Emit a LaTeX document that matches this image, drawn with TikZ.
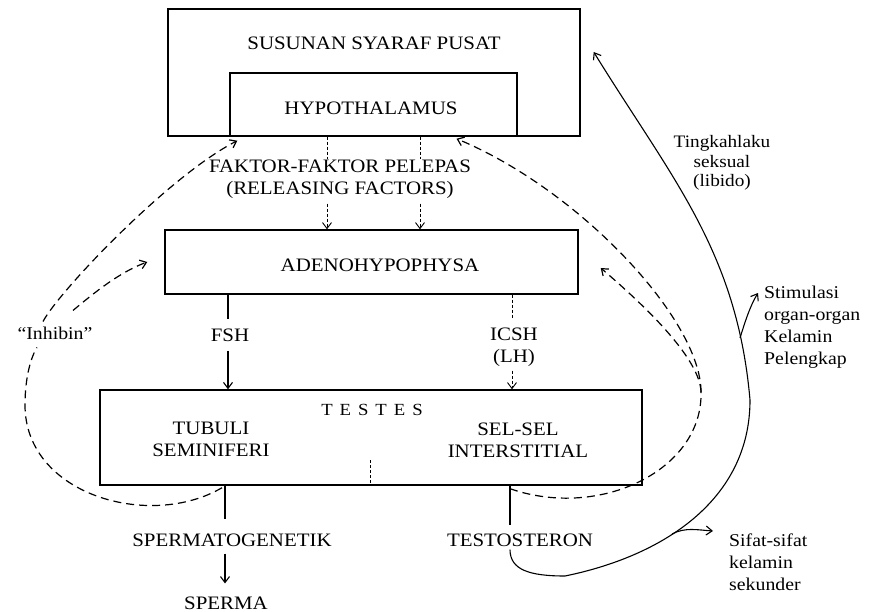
\documentclass[tikz,border=0pt]{standalone}
\usepackage{fontspec}
\setmainfont{Liberation Serif}[FakeStretch=1.1]
\usetikzlibrary{arrows.meta,calc}
\begin{document}
\begin{tikzpicture}[x=1pt,y=-1pt,
  box/.style={draw, line width=1.4pt, inner sep=0pt},
  lbl/.style={inner sep=0pt, font=\fontsize{19}{22}\selectfont, align=center},
  side/.style={inner sep=0pt, font=\fontsize{18}{22}\selectfont, align=left},
  conn/.style={line width=1.1pt},
  arrowend/.style={-{Straight Barb[length=6pt,width=9pt]}},
  arr/.style={conn, arrowend},
  fbdash/.style={line width=1.2pt, dash pattern=on 8pt off 5pt},
  reldash/.style={line width=0.9pt, dash pattern=on 3pt off 2pt}]
\useasboundingbox (0,0) rectangle (875,612);

% boxes
\node[box, minimum width=412pt, minimum height=127pt] (sus) at (374,72.5) {};
\node[box, minimum width=287pt, minimum height=63pt] (hyp) at (373.5,104.5) {};
\node[box, minimum width=413pt, minimum height=64pt] (ade) at (371.5,262) {};
\node[box, minimum width=542pt, minimum height=95pt] (tes) at (371,437.5) {};

% texts
\node[lbl] (sust) at (374,43) {SUSUNAN SYARAF PUSAT};
\node[lbl] (hypt) at (371,108) {HYPOTHALAMUS};
\node[lbl] (fak) at (340,179) {FAKTOR-FAKTOR PELEPAS\\(RELEASING FACTORS)};
\node[lbl] (adet) at (380,265) {ADENOHYPOPHYSA};
\node[lbl] (fsh) at (230,335) {FSH};
\node[lbl] (icsh) at (514,347) {ICSH\\(LH)};
\node[lbl, font=\fontsize{17}{20}\selectfont] (tesl) at (372,410) {T\hspace{7pt}E\hspace{7pt}S\hspace{7pt}T\hspace{7pt}E\hspace{7pt}S};
\node[lbl] (tub) at (211,439) {TUBULI\\SEMINIFERI};
\node[lbl] (sel) at (518,440) {SEL-SEL\\INTERSTITIAL};
\node[lbl] (spg) at (232,540) {SPERMATOGENETIK};
\node[lbl] (spm) at (226,603) {SPERMA};
\node[lbl] (tst) at (520,540) {TESTOSTERON};
\node[side] (inh) at (55,333) {``Inhibin''};
\node[side, align=center, font=\fontsize{17.5}{19.5}\selectfont] (lib) at (722,163) {Tingkahlaku\\seksual\\(libido)};
\node[side, anchor=west] (stim) at (764,327) {Stimulasi\\organ-organ\\Kelamin\\Pelengkap};
\node[side, anchor=west] (sif) at (729,562) {Sifat-sifat\\kelamin\\sekunder};

% x positions of vertical connectors
\coordinate (xf) at (228,0);
\coordinate (xi) at (512,0);
\coordinate (xs) at (225,0);
\coordinate (xt) at (510,0);
\coordinate (xr1) at (327,0);
\coordinate (xr2) at (420,0);
\coordinate (xd) at (370,0);
\coordinate (dtop) at (370,460);

% releasing factors
\draw[reldash] (hyp.south -| xr1) -- (fak.north -| xr1);
\draw[reldash] (hyp.south -| xr2) -- (fak.north -| xr2);
\draw[reldash, arrowend, shorten <=5pt] (fak.south -| xr1) -- (ade.north -| xr1);
\draw[reldash, arrowend, shorten <=5pt] (fak.south -| xr2) -- (ade.north -| xr2);

% FSH / ICSH
\draw[conn, shorten >=9pt] (ade.south -| xf) -- (fsh.north -| xf);
\draw[arr, shorten <=9pt] (fsh.south -| xf) -- (tes.north -| xf);
\draw[reldash, shorten >=8pt] (ade.south -| xi) -- (icsh.north -| xi);
\draw[reldash, arrowend, shorten <=4pt] (icsh.south -| xi) -- (tes.north -| xi);

% testes divider
\draw[reldash] (dtop) -- (tes.south -| xd);

% outputs
\draw[conn, shorten >=14pt] (tes.south -| xs) -- (spg.north -| xs);
\draw[arr, shorten <=7pt, shorten >=13pt] (spg.south -| xs) -- (spm.north -| xs);
\draw[conn, shorten >=8pt] (tes.south -| xt) -- (tst.north -| xt);

% big solid curve
\coordinate (libend) at ($(sus.east)+(13,-20.5)$);
\draw[arr] ($(tst.south -| xt)+(0,3)$) .. controls (510,570) and (530,576) .. (565,576)
  .. controls (663,556) and (750,500) .. (750,400)
  .. controls (737,251) and (672,179) .. (libend);

% stimulasi and sifat branches
\coordinate (stA) at (740,338);
\coordinate (stB) at (758,293);
\draw[arr] (stA) .. controls (745,322) and (750,306) .. (stB);
\coordinate (sfA) at (672,534);
\coordinate (sfB) at (713,531);
\draw[arr] (sfA) .. controls (685,527) and (698,530) .. (sfB);

% inhibin feedback (left)
\draw[fbdash] ($(tes.south -| xs)+(-3,2)$) .. controls (150,530) and (25,495) .. (25,405)
  .. controls (25,375) and (32,355) .. ($(inh.south)+(-18,8)$);
\draw[fbdash, arrowend] ($(inh.north)+(-12,-5)$) .. controls (60,290) and (170,175) .. ($(hyp.south west)+(8,4)$);
\draw[fbdash, arrowend] ($(inh.north)+(18,-16)$) .. controls (95,292) and (120,272) .. ($(ade.west)+(-17,0)$);

% testosterone feedback (right)
\coordinate (mrg) at (701,392);
\draw[fbdash] ($(tes.south -| xt)+(0,3)$) .. controls (600,520) and (703,470) .. (mrg);
\draw[fbdash, arrowend] (mrg) .. controls (701,320) and (580,190) .. ($(hyp.south)+(83,2)$);
\draw[fbdash, arrowend] (mrg) .. controls (700,360) and (650,310) .. ($(ade.east)+(22,6)$);
\end{tikzpicture}
\end{document}
